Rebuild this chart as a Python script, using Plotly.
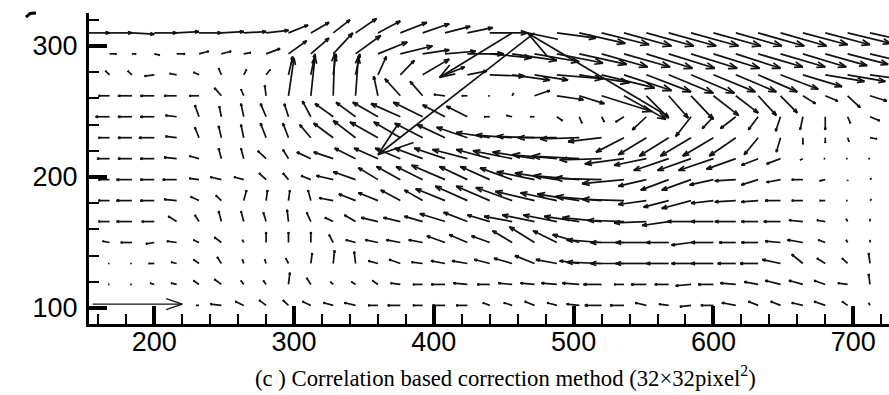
import math
import plotly.graph_objects as go

# ---- axis extents and page geometry ----
X_MIN, X_MAX = 153.3, 725.6
Y_MIN, Y_MAX = 87.8, 325.2
W, H = 889, 395
M_L, M_R, M_T, M_B = 89, 0, 13, 71

# ---- measurement grid ----
x_cols = [152 + 16 * i for i in range(36)]      # 152 ... 712
y_rows = [310 - 16 * j for j in range(14)]      # 310 ... 102

# displacement components, one list per grid row (top row first)
u_r310 = [16, 16, 16, 16, 16, 16, 16, 16, 16, 14, 13, 12, 15, 16, 19, 19, 18, 18, 27, -52, -112, 28, 33, 34, 34, 34, 34, 34, 34, 33, 33, 33, 32, 32, 31, 30]
v_r310 = [0, 0, -1, 0, 1, 0, 1, 1, 2, 6, 8, 10, 11, 9, 8, 7, 5, 4, 0, -34, -93, -4, -8, -9, -10, -10, -10, -10, -10, -10, -10, -10, -9, -9, -8, -7]
u_r294 = [0, 5, 3, 4, 6, 7, 7, 5, 10, 13, 13, 14, 18, 21, 23, 19, 22, 26, 30, 32, 32, 33, 34, 33, 33, 33, 33, 33, 33, 32, 32, 32, 31, 30, 29, 28]
v_r294 = [0, 0, 0, -1, 0, 2, 2, 1, 4, 10, 12, 16, 14, 9, 6, 3, 2, 0, -3, -5, -6, -7, -8, -10, -10, -11, -11, -11, -11, -11, -10, -10, -10, -9, -8, -7]
u_r278 = [0, -3, -3, -7, -5, -4, -2, 2, 3, 3, 3, 2, 3, 6, 10, 19, 14, 14, 25, 27, 24, 33, 36, 38, 34, 32, 32, 31, 30, 29, 28, 27, 28, 28, 27, 27]
v_r278 = [0, 3, 3, -1, 1, 2, 5, 4, 4, 14, 16, 16, 16, 14, 11, 12, 6, 3, -1, -4, -4, -3, -6, -10, -12, -13, -14, -14, -13, -13, -13, -11, -9, -5, -5, -4]
u_r262 = [0, -8, -10, -10, -9, -7, -5, -2, -1, 4, 3, 1, 2, -3, -11, -9, -8, -4, -1, 1, 11, 19, 18, 36, 30, 16, 14, 16, 18, 16, 13, 12, 9, 9, 9, 12]
v_r262 = [0, 0, 0, 0, 0, 0, 6, 5, 8, 29, 30, 32, 30, 15, 13, 11, 1, 0, 0, 2, 4, -3, -6, -12, -18, -17, -17, -18, -15, -13, -15, -13, -6, -4, -9, -4]
u_r246 = [0, -10, -10, -10, -8, -3, -1.5, -2, -4, -3, -6, -13, -14, -18, -21, -21, -16, -15, -4, -4, -3, 4, 2, 2, -6, -10, -101, -11, -8, -11, -7, -3.5, -2, 0, 2, 7]
v_r246 = [0, 0, 0, 0, 1, 9, 8, 10, 10, 10, 12, 10, 11, 11, 10, 11, 9, 8, 0, 1, 0, -3, -5, -4, -4, -10, 64, -15, -9, -9, -10, -11, -10, -10, -5, -3]
u_r230 = [0, -8, -10, -11, -8, -3, -2, -2, -4, -4, -8, -14, -16, -20, -19, -20, -20, -22, -24, -26, -27, -28, -28, -24, -20, -20, -21, -22, -22, -19, -10, -3, 0, 0, 1, 5]
v_r230 = [0, 0, 0, 0, 1, 8, 9, 10, 11, 11, 10, 11, 13, 12, 12, 11, 10, 8, 4, 2, 1, 0, -1, -3, -11, -13, -14, -14, -14, -14, -13, -11, -5, -4, -3, -1]
u_r214 = [0, -9, -10, -10, -9, -7, -2, -2, -6, -4, -10, -14, -15, -17, -18, -20, -22, -25, -24, -28, -30, -32, -34, -30, -28, -23, -25, -24, -25, -21, -12, -10, -2, -1, -1, -1]
v_r214 = [0, 0, 0, 0, 1, 2, 8, 8, 6, 7, 5, 5, 8, 8, 8, 8, 8, 7, 7, 6, 5, 3, 2, -1, -4, -5, -9, -9, -9, -8, -5, -4, -1, 0, 0, 0]
u_r198 = [0, -8, -11, -10, -10, -7, -8, -7, -5, -4, -7, -12, -16, -14, -17, -19, -24, -20, -21, -23, -27, -30, -33, -34, -30, -20, -20, -21, -17, -15, -12, -10, -8, -4, 0, 1]
v_r198 = [0, 0, 0, 0, 0, 1, 2, 2, 5, 5, 3, 3, 6, 9, 10, 10, 11, 10, 10, 9, 6, 5, 3, 1, -3, -5, -8, -8, -4, -1, -4, -2, 0, -1, -1, 1]
u_r182 = [0, -8, -11, -10, -9, -6, -4, 2, 1, 1, -2, -10, -12, -14, -14, -13, -21, -23, -24, -26, -28, -26, -30, -33, -30, -20, -18, -21, -16, -15, -12, -11, -8, -4, -1, 1]
v_r182 = [0, 0, 0, 0, 1, 3, 4, 8, 8, 8, 8, 2, 5, 6, 8, 8, 9, 11, 11, 10, 7, 6, 5, 3, 1, -3, -5, -6, -2, -1, -1, 0, 0, 0, 0, 1]
u_r166 = [0, -8, -11, -9, -6, -3, -2, -2, -2, -1, -3, -6, -8, -12, -12, -13, -18, -17, -16, -20, -23, -24, -25, -28, -26, -23, -19, -17, -16, -15, -12, -12, -10, -6, -1, 0]
v_r166 = [0, 0, 0, 0, 4, 5, 8, 8, 7, 9, 7, 3, 5, 3, 3, 4, 6, 7, 5, 4, 5, 5, 4, 3, 1, -1, -3, 0, 0, 0, 0, 0, 1, 1, 2, 2]
u_r150 = [0, -5, -8, -6, -7, -4, -5, -1, 0, 0, 0, -3, -7, -9, -10, -10, -13, -13, -13, -14, -18, -17, -19, -25, -24, -22, -16, -14, -16, -12, -12, -11, -11, -5, -1, 0]
v_r150 = [0, 1, 0, -1, 1, 2, 4, 2, 8, 8, 8, 6, 2, 2, 2, 2, 5, 6, 5, 9, 12, 9, 6, 2, 0, 0, 0, -2, 0, 0, 0, 1, 2, 2, 2, 2]
u_r134 = [0, -1, -1, -4, -4, -4, -3, -1, -1, -2, 1, 1, -1, -7, -8, -8, -10, -11, -11, -13, -14, -15, -14, -25, -24, -22, -16, -14, -16, -13, -13, -13, -8, -6, -4, -1]
v_r134 = [0, 0, 0, 0, 1, 3, 5, 3, 3, 4, 8, 10, 9, 2, 3, 1, 2, 2, 3, 4, 6, 3, 2, 1, 0, 0, 0, 0, 0, 0, 0, 3, 7, 4, 4, 8]
u_r118 = [0, -1, -1, -3, -4, -4, -5, -2, -2, 1, -3, -2, -3, -4, -7, -7, -10, -10, -9, -10, -10, -11, -12, -13, -7, -11, -10, -11, -11, -11, -10, -11, -10, -8, -7, -1]
v_r118 = [0, 0, 0, 1, 1, 3, 4, 3, 3, 9, 5, 2, 2, 3, 1, 0, 0, 1, 0, 1, 1, 1, 1, 0, 0, 0, 0, -1, 0, 1, 2, 3, 3, 3, 1, 8]
u_r102 = [0, 0, 0, 0, 0, -2, -8, -6, -5, -4, -6, -7, -8, -7, -9, -7, -9, -8, -5, -6, -7, -7, -9, -12, -10, -8, -7, -8, -9, -10, -7, -7, -8, -8, -4, -1]
v_r102 = [0, 0, 0, 0, 0, 0, 1, 3, 4, 4, 3, 2, 2, 0, 0, 0, 0, 0, 2, 2, 3, 2, 1, 0, 0, 2, 1, -1, 0, 2, 3, 3, 2, 3, 3, 2]

U = [u_r310, u_r294, u_r278, u_r262, u_r246, u_r230, u_r214,
     u_r198, u_r182, u_r166, u_r150, u_r134, u_r118, u_r102]
V = [v_r310, v_r294, v_r278, v_r262, v_r246, v_r230, v_r214,
     v_r198, v_r182, v_r166, v_r150, v_r134, v_r118, v_r102]

# reference vector drawn in the lower-left corner
REF_X, REF_Y, REF_U, REF_V = 156, 103, 64, 0

x_ticks = [200, 300, 400, 500, 600, 700]
y_ticks = [100, 200, 300]
caption = "(c ) Correlation based correction method (32×32pixel<sup>2</sup>)"

# ---- arrow geometry (heads built in screen space so they keep their shape) ----
plot_w = W - M_L - M_R
plot_h = H - M_T - M_B
sx = plot_w / (X_MAX - X_MIN)
sy = plot_h / (Y_MAX - Y_MIN)

HEAD_FRAC = 0.19
HEAD_ANG = math.radians(19)


def add_arrow(xs, ys, x0, y0, u, v):
    px, py = u * sx, v * sy
    L = math.hypot(px, py)
    if L < 0.5:
        return
    x1, y1 = x0 + u, y0 + v
    xs += [x0, x1, None]
    ys += [y0, y1, None]
    h = HEAD_FRAC * L
    bx, by = -px / L, -py / L
    for s in (1, -1):
        c, sn = math.cos(s * HEAD_ANG), math.sin(s * HEAD_ANG)
        rx = bx * c - by * sn
        ry = bx * sn + by * c
        xs += [x1, x1 + rx * h / sx, None]
        ys += [y1, y1 + ry * h / sy, None]


ax, ay = [], []
for j, y0 in enumerate(y_rows):
    for i, x0 in enumerate(x_cols):
        add_arrow(ax, ay, x0, y0, U[j][i], V[j][i])

rx, ry = [], []
add_arrow(rx, ry, REF_X, REF_Y, REF_U, REF_V)

fig = go.Figure()
fig.add_trace(go.Scatter(x=ax, y=ay, mode="lines",
                         line=dict(color="#111111", width=1.7),
                         hoverinfo="skip", showlegend=False))
fig.add_trace(go.Scatter(x=rx, y=ry, mode="lines",
                         line=dict(color="#111111", width=1.4),
                         hoverinfo="skip", showlegend=False))

tick_font = dict(family="Liberation Sans, Arial, sans-serif", size=27, color="black")

fig.update_xaxes(range=[X_MIN, X_MAX], tickmode="array", tickvals=x_ticks,
                 ticks="inside", ticklen=18, tickwidth=3.5, tickcolor="black",
                 minor=dict(dtick=20, tick0=0, ticks="inside", ticklen=10,
                            tickwidth=1.8, tickcolor="black"),
                 showline=True, linewidth=3, linecolor="black", mirror=False,
                 showgrid=False, zeroline=False, tickfont=tick_font,
                 ticklabelstandoff=-8)
fig.update_yaxes(range=[Y_MIN, Y_MAX], tickmode="array", tickvals=y_ticks,
                 ticks="inside", ticklen=18, tickwidth=3.5, tickcolor="black",
                 minor=dict(dtick=20, tick0=0, ticks="inside", ticklen=10,
                            tickwidth=1.8, tickcolor="black"),
                 showline=True, linewidth=3, linecolor="black", mirror=False,
                 showgrid=False, zeroline=False, tickfont=tick_font,
                 ticklabelstandoff=3)

fig.add_annotation(text=caption, xref="paper", yref="paper",
                   x=(505 - M_L) / plot_w, y=-(376 - (H - M_B)) / plot_h,
                   xanchor="center", yanchor="middle", showarrow=False,
                   font=dict(family="Liberation Serif, Times New Roman, serif", size=22.7, color="black"))

# small stray stroke at the top-left corner of the frame
fig.add_shape(type="path", xref="paper", yref="paper",
              path="M {:.4f},{:.4f} L {:.4f},{:.4f} L {:.4f},{:.4f}".format(
                  (26 - M_L) / plot_w, ((H - M_B) - 17) / plot_h,
                  (30 - M_L) / plot_w, ((H - M_B) - 13.5) / plot_h,
                  (36 - M_L) / plot_w, ((H - M_B) - 13) / plot_h),
              line=dict(color="black", width=3))

fig.update_layout(width=W, height=H,
                  margin=dict(l=M_L, r=M_R, t=M_T, b=M_B, pad=0),
                  paper_bgcolor="white", plot_bgcolor="white")

fig.write_html("out.html")
